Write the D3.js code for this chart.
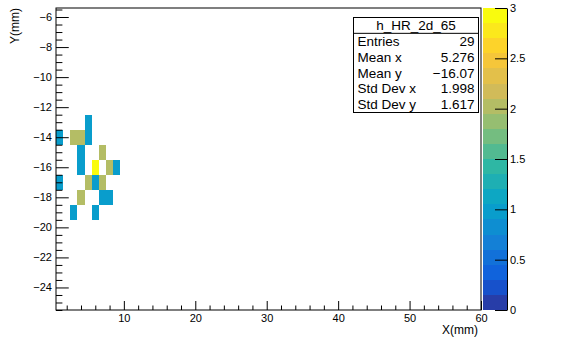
<!DOCTYPE html>
<html>
<head>
<meta charset="utf-8">
<title>h_HR_2d_65</title>
<script src="https://cdn.jsdelivr.net/npm/d3@7"></script>
<style>
  body { margin: 0; background: #fff; }
  svg text { font-family: "Liberation Sans", Arial, sans-serif; fill: #000; }
</style>
</head>
<body>
<svg id="chart" width="571" height="343"></svg>
<script>
// bin centres (mm) and entries of the non-empty cells
var cellX = [5, 1, 3, 4, 5, 4, 7, 4, 6, 8, 9, 1, 5, 6, 7, 4, 7, 8, 3, 6];
var cellY = [-13, -14, -14, -14, -14, -15, -15, -16, -16, -16, -16, -17, -17, -17, -17, -18, -18, -18, -19, -19];
var cellZ = [1, 1, 2, 2, 1, 1, 2, 1, 3, 2, 1, 1, 2, 1, 2, 2, 1, 1, 1, 1];

var xTicks = [10, 20, 30, 40, 50, 60];
var yTicks = [-24, -22, -20, -18, -16, -14, -12, -10, -8, -6];
var zTicks = [0, 0.5, 1, 1.5, 2, 2.5, 3];

var statNames = ["Entries", "Mean x", "Mean y", "Std Dev x", "Std Dev y"];
var statValues = ["29", "5.276", "\u221216.07", "1.998", "1.617"];
var histName = "h_HR_2d_65";

// ROOT kBird palette
var birdStops = [0, 0.125, 0.25, 0.375, 0.5, 0.625, 0.75, 0.875, 1];
var birdR = [0.2082, 0.0592, 0.0780, 0.0232, 0.1802, 0.5301, 0.8186, 0.9956, 0.9764];
var birdG = [0.1664, 0.3599, 0.5041, 0.6419, 0.7178, 0.7492, 0.7328, 0.7862, 0.9832];
var birdB = [0.5293, 0.8684, 0.8385, 0.7914, 0.6425, 0.4662, 0.3499, 0.1968, 0.0539];

var nBands = 20, zMax = 3;
var rS = d3.scaleLinear().domain(birdStops).range(birdR);
var gS = d3.scaleLinear().domain(birdStops).range(birdG);
var bS = d3.scaleLinear().domain(birdStops).range(birdB);
function bandColor(b) {
  var idx = Math.floor((b + 0.99) * 255 / nBands);
  var t = Math.min(idx, 254) / 254;
  return d3.rgb(rS(t) * 255, gS(t) * 255, bS(t) * 255).formatHex();
}
function zColor(z) {
  var b = Math.min(nBands - 1, Math.floor(z / (zMax / nBands) + 1e-9));
  return bandColor(b);
}

var L = 56, R = 481, T = 8, B = 310;
var x = d3.scaleLinear().domain([0.5, 60.0]).range([L, R]);
var y = d3.scaleLinear().domain([-25.5, -5.4]).range([B, T]);
var z = d3.scaleLinear().domain([0, zMax]).range([B, T]);

var svg = d3.select("#chart");

svg.append("clipPath").attr("id", "clip")
  .append("rect").attr("x", L).attr("y", T).attr("width", R - L).attr("height", B - T);

// cells
var idx = d3.range(cellX.length);
svg.append("g").attr("clip-path", "url(#clip)").attr("shape-rendering", "crispEdges")
  .selectAll("rect").data(idx).enter().append("rect")
  .attr("x", function(i) { return x(cellX[i] - 0.5); })
  .attr("y", function(i) { return y(cellY[i] + 0.5); })
  .attr("width", function(i) { return x(cellX[i] + 0.5) - x(cellX[i] - 0.5); })
  .attr("height", function(i) { return y(cellY[i] - 0.5) - y(cellY[i] + 0.5); })
  .attr("fill", function(i) { return zColor(cellZ[i]); });

// frame
svg.append("rect").attr("x", L).attr("y", T).attr("width", R - L).attr("height", B - T)
  .attr("fill", "none").attr("stroke", "#000").attr("stroke-width", 1);

var fmt = d3.format("d");

// x axis
var xMinor = d3.range(2, 60, 2).filter(function(v) { return v % 10 != 0; });
svg.append("g").attr("transform", "translate(0," + B + ")")
  .call(d3.axisBottom(x).tickValues(xMinor).tickSize(-4.5).tickFormat(""))
  .call(function(g) { g.select(".domain").remove(); });
var gx = svg.append("g").attr("transform", "translate(0," + B + ")")
  .call(d3.axisBottom(x).tickValues(xTicks).tickSize(-9).tickPadding(4).tickFormat(fmt));
gx.select(".domain").remove();
gx.selectAll("text").attr("font-size", 11).attr("font-family", null);

// y axis
var yMinor = d3.range(-25.5, -5.4, 0.5).filter(function(v) { return v % 2 != 0; });
svg.append("g").attr("transform", "translate(" + L + ",0)")
  .call(d3.axisLeft(y).tickValues(yMinor).tickSize(-6.4).tickFormat(""))
  .call(function(g) { g.select(".domain").remove(); });
var gy = svg.append("g").attr("transform", "translate(" + L + ",0)")
  .call(d3.axisLeft(y).tickValues(yTicks).tickSize(-12.75).tickPadding(4).tickFormat(fmt));
gy.select(".domain").remove();
gy.selectAll("text").attr("font-size", 11).attr("font-family", null);

svg.selectAll(".tick line").attr("stroke", "#000");

// axis titles
svg.append("text").attr("x", 478).attr("y", 334).attr("text-anchor", "end")
  .attr("font-size", 12).text("X(mm)");
svg.append("text").attr("transform", "translate(19," + T + ") rotate(-90)")
  .attr("text-anchor", "end").attr("font-size", 12).text("Y(mm)");

// colour bar
var CL = 483, CR = 507;
svg.append("g").attr("shape-rendering", "crispEdges")
  .selectAll("rect").data(d3.range(nBands)).enter().append("rect")
  .attr("x", CL).attr("width", CR - CL)
  .attr("y", function(b) { return z((b + 1) * zMax / nBands); })
  .attr("height", function(b) { return z(b * zMax / nBands) - z((b + 1) * zMax / nBands); })
  .attr("fill", bandColor);
var gz = svg.append("g").attr("transform", "translate(" + CR + ",0)")
  .call(d3.axisRight(z).tickValues(zTicks).tickSize(-12).tickPadding(3).tickSizeOuter(0)
    .tickFormat(d3.format("~g")));
gz.selectAll("text").attr("font-size", 11).attr("font-family", null);
gz.selectAll("line, path").attr("stroke", "#000");

// stats box
var sx = 353.5, sy = 17.5, sw = 125, sh = 95, rh = sh / 6;
var st = svg.append("g");
st.append("rect").attr("x", sx).attr("y", sy).attr("width", sw).attr("height", sh)
  .attr("fill", "#fff").attr("stroke", "#000");
st.append("line").attr("x1", sx).attr("x2", sx + sw).attr("y1", sy + rh).attr("y2", sy + rh)
  .attr("stroke", "#000");
st.append("text").attr("x", sx + sw / 2).attr("y", sy + rh / 2).attr("dy", "0.35em")
  .attr("text-anchor", "middle").attr("font-size", 13.5).text(histName);
statNames.forEach(function(n, i) {
  var cy = sy + rh * (i + 1.5);
  st.append("text").attr("x", sx + 4).attr("y", cy).attr("dy", "0.35em")
    .attr("font-size", 13.5).text(n);
  st.append("text").attr("x", sx + sw - 4).attr("y", cy).attr("dy", "0.35em")
    .attr("text-anchor", "end").attr("font-size", 13.5).text(statValues[i]);
});
</script>
</body>
</html>
